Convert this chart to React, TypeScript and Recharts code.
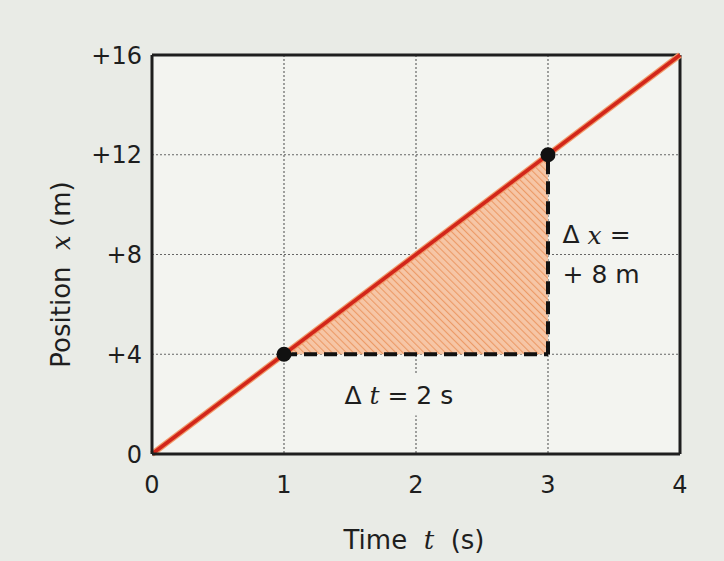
import React from 'react';
import { ComposedChart, Line, Area, XAxis, YAxis, CartesianGrid, ReferenceLine, ReferenceDot } from 'recharts';

const xTicks = [0, 1, 2, 3, 4];
const yTicks = [0, 4, 8, 12, 16];
const positionLine = [{ t: 0, x: 0 }, { t: 4, x: 16 }];
const markedPoints = [{ t: 1, x: 4 }, { t: 3, x: 12 }];
const dtSegment = [{ t: 1, x: 4 }, { t: 3, x: 4 }];
const dxSegment = [{ t: 3, x: 4 }, { t: 3, x: 12 }];
const triangle = [{ t: 1, band: [4, 4] }, { t: 3, band: [4, 12] }];
const dtLabelAnchor = { t: 1.87, x: 2.35 };
const dxLabelAnchor = { t: 3.11, x: 8 };

const SANS = '"DejaVu Sans", sans-serif';
const SERIF = '"DejaVu Serif", "Liberation Serif", serif';
const PLOT_BG = '#f3f4f0';
const INK = '#1e1e1e';

const fmtY = (v: number) => (v > 0 ? `+${v}` : `${v}`);

const XTitle = (props: any) => {
  const vb = props.viewBox || {};
  const cx = vb.x + vb.width / 2 - 2;
  const cy = vb.y + 86;
  return (
    <text x={cx} y={cy} textAnchor="middle" dominantBaseline="central" fontFamily={SANS} fontSize={26} fill={INK}>
      Time{'\u00a0\u00a0'}
      <tspan fontFamily={SERIF} fontStyle="italic">t</tspan>
      {'\u00a0\u00a0'}(s)
    </text>
  );
};

const YTitle = (props: any) => {
  const vb = props.viewBox || {};
  const cx = 61;
  const cy = vb.y + vb.height / 2 + 20;
  return (
    <text x={cx} y={cy} transform={`rotate(-90 ${cx} ${cy})`} textAnchor="middle" dominantBaseline="central" fontFamily={SANS} fontSize={26} fill={INK}>
      Position{'\u00a0\u00a0'}
      <tspan fontFamily={SERIF} fontStyle="italic">x</tspan>
      {'\u00a0'}(m)
    </text>
  );
};

const DtLabel = (props: any) => {
  const vb = props.viewBox || {};
  const x = vb.x;
  const y = vb.y;
  return (
    <g>
      <rect x={x - 66} y={y - 22} width={134} height={42} fill={PLOT_BG} />
      <text x={x} y={y} textAnchor="middle" dominantBaseline="central" fontFamily={SANS} fontSize={25} fill={INK}>
        Δ{'\u00a0'}
        <tspan fontFamily={SERIF} fontStyle="italic">t</tspan>
        {' = 2 s'}
      </text>
    </g>
  );
};

const DxLabel = (props: any) => {
  const vb = props.viewBox || {};
  const x = vb.x;
  const y = vb.y;
  return (
    <g>
      <text x={x} y={y - 20} textAnchor="start" dominantBaseline="central" fontFamily={SANS} fontSize={25} fill={INK}>
        Δ{'\u00a0'}
        <tspan fontFamily={SERIF} fontStyle="italic">x</tspan>
        {' ='}
      </text>
      <text x={x} y={y + 20} textAnchor="start" dominantBaseline="central" fontFamily={SANS} fontSize={25} fill={INK}>
        + 8 m
      </text>
    </g>
  );
};

export default function App() {
  return (
    <div style={{ position: 'absolute', left: 0, top: 0, width: 724, height: 561, background: '#e9ebe6' }}>
      <ComposedChart width={724} height={561} margin={{ top: 55, right: 44, bottom: 7, left: 0 }}>
        <defs>
          <pattern id="hatch" width="5" height="5" patternUnits="userSpaceOnUse" patternTransform="rotate(-45)">
            <rect width="5" height="5" fill="#f6c6a6" />
            <line x1="0" y1="0" x2="0" y2="5" stroke="#ec9a66" strokeWidth="2.2" />
          </pattern>
        </defs>
        <CartesianGrid fill={PLOT_BG} stroke="#666" strokeDasharray="2 2" strokeWidth={1.2} />
        <XAxis
          dataKey="t"
          type="number"
          domain={[0, 4]}
          ticks={xTicks}
          height={100}
          axisLine={{ stroke: INK, strokeWidth: 3 }}
          tickLine={false}
          tickMargin={16}
          tick={{ fontFamily: SANS, fontSize: 24, fill: INK }}
          label={<XTitle />}
        />
        <YAxis
          dataKey="x"
          type="number"
          domain={[0, 16]}
          ticks={yTicks}
          width={152}
          tickFormatter={fmtY}
          axisLine={{ stroke: INK, strokeWidth: 3 }}
          tickLine={false}
          tickMargin={4}
          tick={{ fontFamily: SANS, fontSize: 24, fill: INK }}
          label={<YTitle />}
        />
        <ReferenceLine y={16} stroke={INK} strokeWidth={3} />
        <ReferenceLine x={4} stroke={INK} strokeWidth={3} />
        <Area data={triangle} dataKey="band" type="linear" fill="url(#hatch)" fillOpacity={1} stroke="none" isAnimationActive={false} />
        <Line data={dtSegment} dataKey="x" type="linear" stroke="#111" strokeWidth={4} strokeDasharray="13 7" dot={false} isAnimationActive={false} />
        <Line data={dxSegment} dataKey="x" type="linear" stroke="#111" strokeWidth={4} strokeDasharray="13 7" dot={false} isAnimationActive={false} />
        <Line data={positionLine} dataKey="x" type="linear" stroke="#f19a6a" strokeWidth={6} dot={false} isAnimationActive={false} />
        <Line data={positionLine} dataKey="x" type="linear" stroke="#d2261a" strokeWidth={3.6} dot={false} isAnimationActive={false} />
        <Line data={markedPoints} dataKey="x" type="linear" stroke="none" dot={{ r: 7.5, fill: '#111', stroke: 'none' }} isAnimationActive={false} />
        <ReferenceDot x={dtLabelAnchor.t} y={dtLabelAnchor.x} r={0} stroke="none" fill="none" label={<DtLabel />} />
        <ReferenceDot x={dxLabelAnchor.t} y={dxLabelAnchor.x} r={0} stroke="none" fill="none" label={<DxLabel />} />
      </ComposedChart>
    </div>
  );
}
